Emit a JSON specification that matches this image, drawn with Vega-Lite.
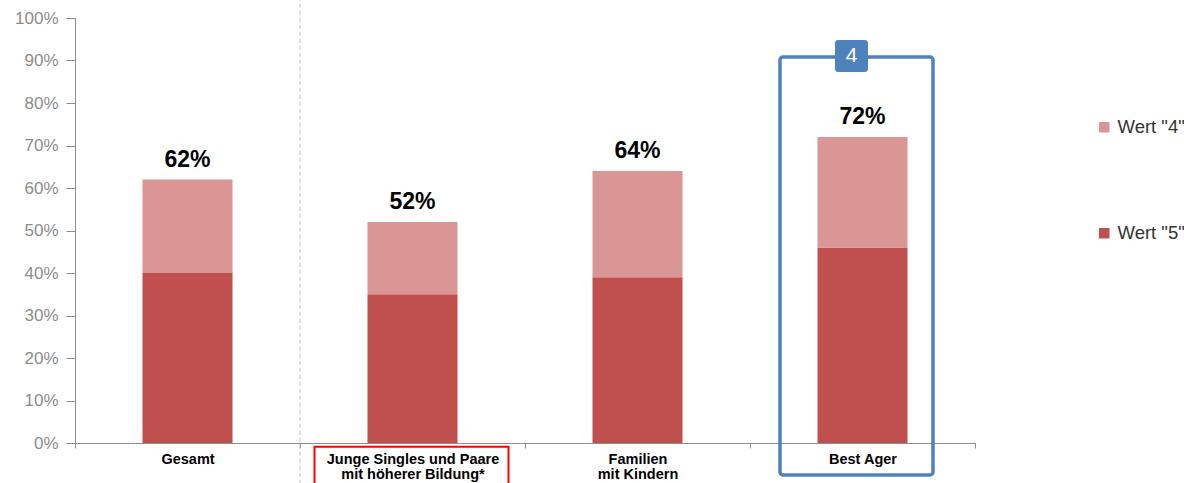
{
  "$schema": "https://vega.github.io/schema/vega-lite/v6.json",
  "width": 900,
  "height": 425,
  "autosize": {"type": "none"},
  "padding": {"left": 75, "top": 18, "right": 209, "bottom": 40},
  "background": "white",
  "config": {"view": {"stroke": null}, "font": "Liberation Sans"},
  "datasets": {
    "bars": [
      {"cat": "Gesamt", "series": "Wert \"5\"", "value": 0.40, "ord": 1},
      {"cat": "Gesamt", "series": "Wert \"4\"", "value": 0.22, "ord": 2},
      {"cat": "Junge Singles und Paare|mit höherer Bildung*", "series": "Wert \"5\"", "value": 0.35, "ord": 1},
      {"cat": "Junge Singles und Paare|mit höherer Bildung*", "series": "Wert \"4\"", "value": 0.17, "ord": 2},
      {"cat": "Familien|mit Kindern", "series": "Wert \"5\"", "value": 0.39, "ord": 1},
      {"cat": "Familien|mit Kindern", "series": "Wert \"4\"", "value": 0.25, "ord": 2},
      {"cat": "Best Ager", "series": "Wert \"5\"", "value": 0.46, "ord": 1},
      {"cat": "Best Ager", "series": "Wert \"4\"", "value": 0.26, "ord": 2}
    ],
    "totals": [
      {"cat": "Gesamt", "total": 0.62},
      {"cat": "Junge Singles und Paare|mit höherer Bildung*", "total": 0.52},
      {"cat": "Familien|mit Kindern", "total": 0.64},
      {"cat": "Best Ager", "total": 0.72}
    ],
    "divider": [{"cat": "Junge Singles und Paare|mit höherer Bildung*", "top": 1.05, "bottom": -0.11}],
    "highlight": [{"cat": "Best Ager", "top": 0.908, "bottom": -0.075, "badgeTop": 0.948, "badgeBottom": 0.873, "badgeMid": 0.91, "badge": "4"}],
    "labelbox": [{"cat": "Junge Singles und Paare|mit höherer Bildung*", "top": -0.009, "bottom": -0.12}]
  },
  "encoding": {
    "x": {
      "field": "cat", "type": "nominal",
      "sort": ["Gesamt", "Junge Singles und Paare|mit höherer Bildung*", "Familien|mit Kindern", "Best Ager"],
      "scale": {"paddingInner": 0, "paddingOuter": 0},
      "axis": {
        "title": null, "labelAngle": 0, "tickBand": "extent",
        "labelExpr": "split(datum.label, '|')",
        "labelFont": "Liberation Sans", "labelFontSize": 14.5, "labelFontWeight": "bold",
        "labelColor": "#000000", "labelPadding": 4, "labelLineHeight": 15.5,
        "domainColor": "#8C8C8C", "tickColor": "#8C8C8C", "tickSize": 5, "domainWidth": 1
      }
    }
  },
  "layer": [
    {
      "data": {"name": "divider"},
      "mark": {"type": "rule", "strokeDash": [4, 3], "color": "#BFBFBF", "strokeWidth": 1, "clip": false},
      "encoding": {
        "x": {"field": "cat", "type": "nominal", "bandPosition": 0},
        "y": {"field": "top", "type": "quantitative"},
        "y2": {"field": "bottom"}
      }
    },
    {
      "data": {"name": "bars"},
      "mark": {"type": "bar", "width": 90},
      "encoding": {
        "y": {
          "field": "value", "type": "quantitative", "stack": "zero",
          "scale": {"domain": [0, 1], "nice": false},
          "axis": {
            "title": null, "format": ".0%", "values": [0, 0.1, 0.2, 0.3, 0.4, 0.5, 0.6, 0.7, 0.8, 0.9, 1],
            "grid": false, "labelFont": "Liberation Sans", "labelFontSize": 17,
            "labelColor": "#8C8C8C", "domainColor": "#8C8C8C", "tickColor": "#8C8C8C",
            "tickSize": 9, "labelPadding": 8
          }
        },
        "color": {
          "field": "series", "type": "nominal",
          "scale": {"domain": ["Wert \"4\"", "Wert \"5\""], "range": ["#D99694", "#C0504D"]},
          "legend": {
            "title": null, "orient": "none", "legendX": 1020, "legendY": 100,
            "symbolType": "square", "symbolSize": 110, "symbolStrokeWidth": 0,
            "labelFont": "Liberation Sans", "labelFontSize": 18.5, "labelColor": "#333333",
            "rowPadding": 87, "labelOffset": 4
          }
        },
        "order": {"field": "ord", "type": "quantitative"}
      }
    },
    {
      "data": {"name": "totals"},
      "mark": {"type": "text", "font": "Liberation Sans", "fontSize": 23, "fontWeight": "bold", "color": "#000000", "baseline": "alphabetic", "dy": -13},
      "encoding": {
        "y": {"field": "total", "type": "quantitative"},
        "text": {"field": "total", "type": "quantitative", "format": ".0%"}
      }
    },
    {
      "data": {"name": "highlight"},
      "mark": {"type": "rect", "width": 153, "xOffset": -6, "fill": null, "stroke": "#4F81BD", "strokeWidth": 3.5, "cornerRadius": 3, "clip": false},
      "encoding": {
        "y": {"field": "top", "type": "quantitative"},
        "y2": {"field": "bottom"}
      }
    },
    {
      "data": {"name": "highlight"},
      "mark": {"type": "rect", "width": 33, "xOffset": -11, "fill": "#4F81BD", "cornerRadius": 3, "clip": false},
      "encoding": {
        "y": {"field": "badgeTop", "type": "quantitative"},
        "y2": {"field": "badgeBottom"}
      }
    },
    {
      "data": {"name": "highlight"},
      "mark": {"type": "text", "font": "Liberation Sans", "fontSize": 21, "color": "white", "baseline": "middle", "xOffset": -11},
      "encoding": {
        "y": {"field": "badgeMid", "type": "quantitative"},
        "text": {"field": "badge"}
      }
    },
    {
      "data": {"name": "labelbox"},
      "mark": {"type": "rect", "width": 194, "xOffset": -1, "fill": null, "stroke": "#FF0000", "strokeWidth": 2, "clip": false},
      "encoding": {
        "y": {"field": "top", "type": "quantitative"},
        "y2": {"field": "bottom"}
      }
    }
  ]
}
